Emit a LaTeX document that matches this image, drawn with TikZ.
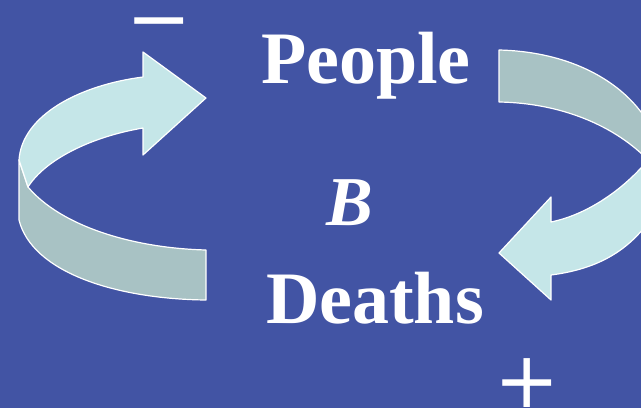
\documentclass[tikz,border=0pt]{standalone}
\usepackage{fontspec}
\setmainfont{Liberation Serif}
\newfontfamily\symfont{DejaVu Sans}
\definecolor{bg}{RGB}{66,84,164}
\definecolor{lightface}{RGB}{197,230,232}
\definecolor{darkface}{RGB}{168,194,196}
\tikzset{
  face/.style={draw=white, line width=1.2pt, line join=round},
  lbl/.style={text=white, inner sep=0pt, anchor=base, font=\bfseries\fontsize{74}{74}\selectfont},
  sgn/.style={text=white, inner sep=0pt, anchor=base, font=\symfont\fontsize{78}{78}\selectfont}
}
\begin{document}
\begin{tikzpicture}[x=1pt,y=-1pt]
\useasboundingbox (0,0) rectangle (641,408);
\clip (0,0) rectangle (641,408);
\fill[bg] (0,0) rectangle (641,408);
% left arrow: dark front face
\path[face, fill=darkface] (19,160) -- (28,187) .. controls (60,225) and (130,248) .. (206,250)
  -- (206,300) .. controls (115,299) and (32,272) .. (19,220) -- cycle;
% left arrow: light top face with head
\path[face, fill=lightface] (143,52) -- (206,98) -- (143,155) -- (143,128)
  .. controls (90,137) and (45,160) .. (28,187) -- (19,160)
  .. controls (22,115) and (80,85) .. (143,77) -- cycle;
% right arrow: dark face
\path[face, fill=darkface] (499,50) .. controls (585,52) and (645,95) .. (660,150) -- (662,172)
  -- (650,162) .. controls (615,125) and (560,103) .. (499,102) -- cycle;
% right arrow: light face with head
\path[face, fill=lightface] (652,155) .. controls (628,186) and (590,214) .. (551,222)
  -- (551,197) -- (499,253) -- (551,300) -- (551,275)
  .. controls (605,268) and (640,245) .. (665,195) -- (670,160) -- cycle;
% labels
\node[lbl] (people) at (366,83) {People};
\node[lbl] (deaths) at (375,323) {Deaths};
\node[lbl, font=\bfseries\itshape\fontsize{70}{70}\selectfont] (loopB) at (350,225) {B};
\node[sgn] (minus) at (159,45) {−};
\node[sgn] (plus) at (527,407) {+};
\end{tikzpicture}
\end{document}
